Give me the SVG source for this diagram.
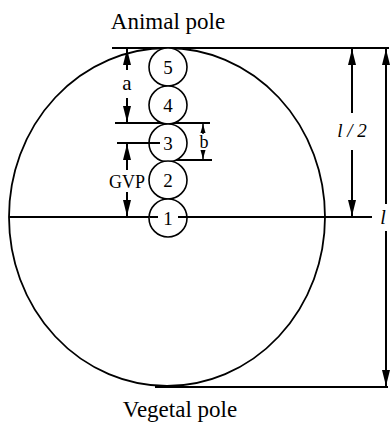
<svg xmlns="http://www.w3.org/2000/svg" width="392" height="424" viewBox="0 0 392 424">
<style>
.ln{stroke:#000;stroke-width:2;fill:none}
.c{stroke:#000;stroke-width:1.6;fill:#fff}
.t{font-family:"Liberation Serif","DejaVu Serif",serif;fill:#000}
.n{font-size:19px;text-anchor:middle}
</style>
<defs>
<marker id="ah" viewBox="0 0 16 8" refX="16" refY="4" markerWidth="16" markerHeight="8" markerUnits="userSpaceOnUse" orient="auto"><path d="M0,0 L16,4 L0,8 z" fill="#000"/></marker>
</defs>
<rect width="392" height="424" fill="#fff"/>
<g id="egg"><ellipse cx="167" cy="217" rx="158" ry="169" fill="none" stroke="#000" stroke-width="1.8"/></g>
<g id="connectors">
<line class="ln" x1="112" y1="48" x2="389" y2="48"/>
<line class="ln" x1="115" y1="123" x2="210" y2="123"/>
<line class="ln" x1="172" y1="160" x2="212" y2="160"/>
<line class="ln" x1="9" y1="217" x2="156" y2="217"/>
<line class="ln" x1="178" y1="217" x2="372" y2="217"/>
<line class="ln" x1="155" y1="387" x2="388" y2="387"/>
</g>
<g id="circles">
<circle class="c" cx="168" cy="67" r="19"/>
<circle class="c" cx="168" cy="105" r="19"/>
<circle class="c" cx="168" cy="143" r="19"/>
<circle class="c" cx="168" cy="180" r="19"/>
<circle class="c" cx="168" cy="218" r="19"/>
<line class="ln" x1="117" y1="143" x2="160" y2="143"/>
<line class="ln" x1="150" y1="217" x2="158" y2="217"/>
<line class="ln" x1="178" y1="217" x2="190" y2="217"/>
<text class="t n" x="168" y="74">5</text>
<text class="t n" x="168" y="112">4</text>
<text class="t n" x="168" y="150">3</text>
<text class="t n" x="168" y="187">2</text>
<text class="t n" x="168" y="225">1</text>
</g>
<g id="dimensions" stroke="#000" stroke-width="2">
<line x1="127" y1="70" x2="127" y2="49" marker-end="url(#ah)"/>
<line x1="127" y1="98" x2="127" y2="122" marker-end="url(#ah)"/>
<line x1="127" y1="170" x2="127" y2="144" marker-end="url(#ah)"/>
<line x1="127" y1="192" x2="127" y2="216" marker-end="url(#ah)"/>
<line x1="203" y1="134" x2="203" y2="124" stroke-width="1.5"/>
<path d="M203,124 L200.5,133 L205.5,133 z" fill="#000" stroke="none"/>
<line x1="203" y1="150" x2="203" y2="159" stroke-width="1.5"/>
<path d="M203,159 L200.5,150 L205.5,150 z" fill="#000" stroke="none"/>
<line x1="352" y1="113" x2="352" y2="49" marker-end="url(#ah)"/>
<line x1="352" y1="150" x2="352" y2="216" marker-end="url(#ah)"/>
<line x1="386" y1="204" x2="386" y2="49" marker-end="url(#ah)"/>
<line x1="386" y1="231" x2="386" y2="386" marker-end="url(#ah)"/>
</g>
<g id="labels">
<text class="t" x="168" y="29" font-size="23" text-anchor="middle">Animal pole</text>
<text class="t" x="180" y="417" font-size="23" text-anchor="middle">Vegetal pole</text>
<text class="t" x="127" y="90" font-size="21" text-anchor="middle">a</text>
<text class="t" x="204" y="148" font-size="18" text-anchor="middle">b</text>
<text class="t" x="127" y="188" font-size="18" text-anchor="middle">GVP</text>
<text class="t" x="352" y="137" font-size="19" font-style="italic" text-anchor="middle">l / 2</text>
<text class="t" x="383" y="224" font-size="20" font-style="italic" text-anchor="middle">l</text>
</g>
</svg>
